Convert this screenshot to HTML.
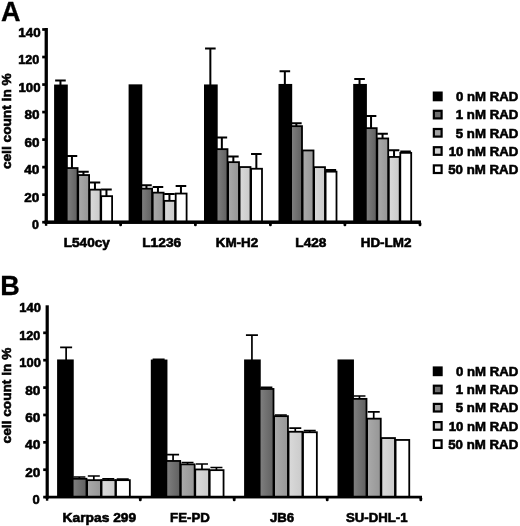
<!DOCTYPE html>
<html><head><meta charset="utf-8"><title>Figure</title>
<style>html,body{margin:0;padding:0;background:#fff}svg{display:block;will-change:transform}text{font-family:"Liberation Sans",sans-serif;font-weight:bold}</style>
</head><body>
<svg width="520" height="526" viewBox="0 0 520 526" fill="#000">
<defs><linearGradient id="g1" x1="0" y1="0" x2="1" y2="0"><stop offset="0" stop-color="#808080"/><stop offset="1" stop-color="#606060"/></linearGradient><linearGradient id="g2" x1="0" y1="0" x2="1" y2="0"><stop offset="0" stop-color="#aaaaaa"/><stop offset="1" stop-color="#969696"/></linearGradient><linearGradient id="g3" x1="0" y1="0" x2="1" y2="0"><stop offset="0" stop-color="#dadada"/><stop offset="1" stop-color="#cacaca"/></linearGradient></defs>
<rect width="520" height="526" fill="#fff"/>
<text x="1.0" y="20.9" font-size="27" stroke="#000" stroke-width="0.3">A</text>
<path d="M60.45 85.30V80.60M55.15 80.60H65.75" stroke="#000" stroke-width="2" fill="none"/>
<rect x="55.00" y="85.45" width="11.90" height="136.75" fill="#000000" stroke="#000" stroke-width="1.8"/>
<path d="M71.95 167.90V156.00M66.65 156.00H77.25" stroke="#000" stroke-width="2" fill="none"/>
<rect x="66.70" y="168.05" width="10.90" height="54.15" fill="url(#g1)" stroke="#000" stroke-width="1.8"/>
<path d="M83.45 174.90V171.80M78.15 171.80H88.75" stroke="#000" stroke-width="2" fill="none"/>
<rect x="78.20" y="175.05" width="10.90" height="47.15" fill="url(#g2)" stroke="#000" stroke-width="1.8"/>
<path d="M94.95 189.50V182.50M89.65 182.50H100.25" stroke="#000" stroke-width="2" fill="none"/>
<rect x="89.70" y="189.65" width="10.90" height="32.55" fill="url(#g3)" stroke="#000" stroke-width="1.8"/>
<path d="M106.45 196.00V189.50M101.15 189.50H111.75" stroke="#000" stroke-width="2" fill="none"/>
<rect x="101.20" y="196.15" width="10.90" height="26.05" fill="#ffffff" stroke="#000" stroke-width="1.8"/>
<rect x="129.50" y="85.25" width="11.90" height="136.95" fill="#000000" stroke="#000" stroke-width="1.8"/>
<path d="M146.45 188.50V185.20M141.15 185.20H151.75" stroke="#000" stroke-width="2" fill="none"/>
<rect x="141.20" y="188.65" width="10.90" height="33.55" fill="url(#g1)" stroke="#000" stroke-width="1.8"/>
<path d="M157.95 192.50V187.00M152.65 187.00H163.25" stroke="#000" stroke-width="2" fill="none"/>
<rect x="152.70" y="192.65" width="10.90" height="29.55" fill="url(#g2)" stroke="#000" stroke-width="1.8"/>
<path d="M169.45 200.70V194.00M164.15 194.00H174.75" stroke="#000" stroke-width="2" fill="none"/>
<rect x="164.20" y="200.85" width="10.90" height="21.35" fill="url(#g3)" stroke="#000" stroke-width="1.8"/>
<path d="M180.95 193.40V186.00M175.65 186.00H186.25" stroke="#000" stroke-width="2" fill="none"/>
<rect x="175.70" y="193.55" width="10.90" height="28.65" fill="#ffffff" stroke="#000" stroke-width="1.8"/>
<path d="M210.35 85.20V48.50M205.05 48.50H215.65" stroke="#000" stroke-width="2" fill="none"/>
<rect x="204.90" y="85.35" width="11.90" height="136.85" fill="#000000" stroke="#000" stroke-width="1.8"/>
<path d="M221.85 149.00V137.60M216.55 137.60H227.15" stroke="#000" stroke-width="2" fill="none"/>
<rect x="216.60" y="149.15" width="10.90" height="73.05" fill="url(#g1)" stroke="#000" stroke-width="1.8"/>
<path d="M233.35 162.00V156.60M228.05 156.60H238.65" stroke="#000" stroke-width="2" fill="none"/>
<rect x="228.10" y="162.15" width="10.90" height="60.05" fill="url(#g2)" stroke="#000" stroke-width="1.8"/>
<rect x="239.60" y="167.05" width="10.90" height="55.15" fill="url(#g3)" stroke="#000" stroke-width="1.8"/>
<path d="M256.35 168.60V153.90M251.05 153.90H261.65" stroke="#000" stroke-width="2" fill="none"/>
<rect x="251.10" y="168.75" width="10.90" height="53.45" fill="#ffffff" stroke="#000" stroke-width="1.8"/>
<path d="M284.85 84.70V71.20M279.55 71.20H290.15" stroke="#000" stroke-width="2" fill="none"/>
<rect x="279.40" y="84.85" width="11.90" height="137.35" fill="#000000" stroke="#000" stroke-width="1.8"/>
<path d="M296.35 126.00V123.30M291.05 123.30H301.65" stroke="#000" stroke-width="2" fill="none"/>
<rect x="291.10" y="126.15" width="10.90" height="96.05" fill="url(#g1)" stroke="#000" stroke-width="1.8"/>
<rect x="302.60" y="150.45" width="10.90" height="71.75" fill="url(#g2)" stroke="#000" stroke-width="1.8"/>
<rect x="314.10" y="167.15" width="10.90" height="55.05" fill="url(#g3)" stroke="#000" stroke-width="1.8"/>
<path d="M330.85 171.50V170.00M325.55 170.00H336.15" stroke="#000" stroke-width="2" fill="none"/>
<rect x="325.60" y="171.65" width="10.90" height="50.55" fill="#ffffff" stroke="#000" stroke-width="1.8"/>
<path d="M359.55 84.70V79.00M354.25 79.00H364.85" stroke="#000" stroke-width="2" fill="none"/>
<rect x="354.10" y="84.85" width="11.90" height="137.35" fill="#000000" stroke="#000" stroke-width="1.8"/>
<path d="M371.05 128.00V116.00M365.75 116.00H376.35" stroke="#000" stroke-width="2" fill="none"/>
<rect x="365.80" y="128.15" width="10.90" height="94.05" fill="url(#g1)" stroke="#000" stroke-width="1.8"/>
<path d="M382.55 138.30V133.80M377.25 133.80H387.85" stroke="#000" stroke-width="2" fill="none"/>
<rect x="377.30" y="138.45" width="10.90" height="83.75" fill="url(#g2)" stroke="#000" stroke-width="1.8"/>
<path d="M394.05 156.80V150.30M388.75 150.30H399.35" stroke="#000" stroke-width="2" fill="none"/>
<rect x="388.80" y="156.95" width="10.90" height="65.25" fill="url(#g3)" stroke="#000" stroke-width="1.8"/>
<path d="M405.55 152.70V151.40M400.25 151.40H410.85" stroke="#000" stroke-width="2" fill="none"/>
<rect x="400.30" y="152.85" width="10.90" height="69.35" fill="#ffffff" stroke="#000" stroke-width="1.8"/>
<rect x="44.6" y="28.00" width="3.3" height="195.80" fill="#000"/>
<rect x="44.6" y="220.45" width="376.40" height="3.5" fill="#000"/>
<rect x="44.90" y="222.20" width="2.4" height="3.6" fill="#000"/>
<rect x="42.20" y="220.85" width="2.8" height="2.7" fill="#000"/>
<text x="32.00" y="229.25" font-size="13.4" stroke="#000" stroke-width="0.6" textLength="6.91" lengthAdjust="spacingAndGlyphs">0</text>
<rect x="42.20" y="193.32" width="2.8" height="2.7" fill="#000"/>
<text x="24.30" y="201.72" font-size="13.4" stroke="#000" stroke-width="0.6" textLength="15.13" lengthAdjust="spacingAndGlyphs">20</text>
<rect x="42.20" y="165.79" width="2.8" height="2.7" fill="#000"/>
<text x="24.20" y="174.19" font-size="13.4" stroke="#000" stroke-width="0.6" textLength="15.23" lengthAdjust="spacingAndGlyphs">40</text>
<rect x="42.20" y="138.26" width="2.8" height="2.7" fill="#000"/>
<text x="24.40" y="146.66" font-size="13.4" stroke="#000" stroke-width="0.6" textLength="15.03" lengthAdjust="spacingAndGlyphs">60</text>
<rect x="42.20" y="110.73" width="2.8" height="2.7" fill="#000"/>
<text x="24.40" y="119.13" font-size="13.4" stroke="#000" stroke-width="0.6" textLength="15.03" lengthAdjust="spacingAndGlyphs">80</text>
<rect x="42.20" y="83.20" width="2.8" height="2.7" fill="#000"/>
<text x="18.50" y="91.60" font-size="13.4" stroke="#000" stroke-width="0.6" textLength="22.08" lengthAdjust="spacingAndGlyphs">100</text>
<rect x="42.20" y="55.67" width="2.8" height="2.7" fill="#000"/>
<text x="18.30" y="64.07" font-size="13.4" stroke="#000" stroke-width="0.6" textLength="21.08" lengthAdjust="spacingAndGlyphs">120</text>
<rect x="42.20" y="28.14" width="2.8" height="2.7" fill="#000"/>
<text x="18.30" y="36.54" font-size="13.4" stroke="#000" stroke-width="0.6" textLength="22.28" lengthAdjust="spacingAndGlyphs">140</text>
<rect x="119.20" y="222.20" width="2.8" height="4.1" rx="1.2" fill="#000"/>
<rect x="194.00" y="222.20" width="2.8" height="4.1" rx="1.2" fill="#000"/>
<rect x="269.00" y="222.20" width="2.8" height="4.1" rx="1.2" fill="#000"/>
<rect x="343.50" y="222.20" width="2.8" height="4.1" rx="1.2" fill="#000"/>
<rect x="418.60" y="222.20" width="2.8" height="4.1" rx="1.2" fill="#000"/>
<text x="63.70" y="247.10" font-size="13.4" stroke="#000" stroke-width="0.6" textLength="46.22" lengthAdjust="spacingAndGlyphs">L540cy</text>
<text x="142.20" y="247.10" font-size="13.4" stroke="#000" stroke-width="0.6" textLength="39.01" lengthAdjust="spacingAndGlyphs">L1236</text>
<text x="215.70" y="247.10" font-size="13.4" stroke="#000" stroke-width="0.6" textLength="42.62" lengthAdjust="spacingAndGlyphs">KM-H2</text>
<text x="295.30" y="247.10" font-size="13.4" stroke="#000" stroke-width="0.6" textLength="31.09" lengthAdjust="spacingAndGlyphs">L428</text>
<text x="360.70" y="247.10" font-size="13.4" stroke="#000" stroke-width="0.6" textLength="50.77" lengthAdjust="spacingAndGlyphs">HD-LM2</text>
<text transform="translate(11.40,169.10) rotate(-90)" font-size="13.4" stroke="#000" stroke-width="0.6" textLength="95.81" lengthAdjust="spacingAndGlyphs">cell count in %</text>
<rect x="433.85" y="92.60" width="7.75" height="7.6" fill="#000000" stroke="#000" stroke-width="2.2"/>
<text x="456.00" y="101.20" font-size="13.4" stroke="#000" stroke-width="0.6" textLength="62.33" lengthAdjust="spacingAndGlyphs">0 nM RAD</text>
<rect x="433.85" y="110.80" width="7.75" height="7.6" fill="#6e6e6e" stroke="#000" stroke-width="2.2"/>
<text x="455.80" y="119.40" font-size="13.4" stroke="#000" stroke-width="0.6" textLength="62.53" lengthAdjust="spacingAndGlyphs">1 nM RAD</text>
<rect x="433.85" y="129.00" width="7.75" height="7.6" fill="#a2a2a2" stroke="#000" stroke-width="2.2"/>
<text x="455.80" y="137.60" font-size="13.4" stroke="#000" stroke-width="0.6" textLength="62.53" lengthAdjust="spacingAndGlyphs">5 nM RAD</text>
<rect x="433.85" y="147.20" width="7.75" height="7.6" fill="#d2d2d2" stroke="#000" stroke-width="2.2"/>
<text x="448.70" y="155.80" font-size="13.4" stroke="#000" stroke-width="0.6" textLength="69.58" lengthAdjust="spacingAndGlyphs">10 nM RAD</text>
<rect x="433.85" y="165.40" width="7.75" height="7.6" fill="#ffffff" stroke="#000" stroke-width="2.2"/>
<text x="448.20" y="174.00" font-size="13.4" stroke="#000" stroke-width="0.6" textLength="70.08" lengthAdjust="spacingAndGlyphs">50 nM RAD</text>
<text x="0.3" y="295.4" font-size="27" stroke="#000" stroke-width="0.3">B</text>
<path d="M66.12 360.20V347.30M60.12 347.30H72.12" stroke="#000" stroke-width="1.7" fill="none"/>
<rect x="58.00" y="360.35" width="14.85" height="136.75" fill="#000000" stroke="#000" stroke-width="1.8"/>
<path d="M79.38 478.60V477.00M73.38 477.00H85.38" stroke="#000" stroke-width="1.7" fill="none"/>
<rect x="72.65" y="478.75" width="13.85" height="18.35" fill="url(#g1)" stroke="#000" stroke-width="1.8"/>
<path d="M93.82 480.00V476.00M87.82 476.00H99.82" stroke="#000" stroke-width="1.7" fill="none"/>
<rect x="87.10" y="480.15" width="13.85" height="16.95" fill="url(#g2)" stroke="#000" stroke-width="1.8"/>
<path d="M108.27 480.00V478.80M102.27 478.80H114.27" stroke="#000" stroke-width="1.7" fill="none"/>
<rect x="101.55" y="480.15" width="13.85" height="16.95" fill="url(#g3)" stroke="#000" stroke-width="1.8"/>
<path d="M122.72 480.00V479.20M116.72 479.20H128.72" stroke="#000" stroke-width="1.7" fill="none"/>
<rect x="116.00" y="480.15" width="13.85" height="16.95" fill="#ffffff" stroke="#000" stroke-width="1.8"/>
<path d="M158.62 360.30V359.30M152.62 359.30H164.62" stroke="#000" stroke-width="1.7" fill="none"/>
<rect x="151.70" y="360.45" width="14.85" height="136.65" fill="#000000" stroke="#000" stroke-width="1.8"/>
<path d="M173.07 460.80V454.70M167.07 454.70H179.07" stroke="#000" stroke-width="1.7" fill="none"/>
<rect x="166.35" y="460.95" width="13.85" height="36.15" fill="url(#g1)" stroke="#000" stroke-width="1.8"/>
<path d="M187.53 464.20V462.50M181.53 462.50H193.53" stroke="#000" stroke-width="1.7" fill="none"/>
<rect x="180.80" y="464.35" width="13.85" height="32.75" fill="url(#g2)" stroke="#000" stroke-width="1.8"/>
<path d="M201.97 469.30V464.00M195.97 464.00H207.97" stroke="#000" stroke-width="1.7" fill="none"/>
<rect x="195.25" y="469.45" width="13.85" height="27.65" fill="url(#g3)" stroke="#000" stroke-width="1.8"/>
<path d="M216.43 470.00V467.50M210.43 467.50H222.43" stroke="#000" stroke-width="1.7" fill="none"/>
<rect x="209.70" y="470.15" width="13.85" height="26.95" fill="#ffffff" stroke="#000" stroke-width="1.8"/>
<path d="M251.93 360.20V335.10M245.93 335.10H257.93" stroke="#000" stroke-width="1.7" fill="none"/>
<rect x="245.00" y="360.35" width="14.85" height="136.75" fill="#000000" stroke="#000" stroke-width="1.8"/>
<path d="M266.38 388.80V387.40M260.38 387.40H272.38" stroke="#000" stroke-width="1.7" fill="none"/>
<rect x="259.65" y="388.95" width="13.85" height="108.15" fill="url(#g1)" stroke="#000" stroke-width="1.8"/>
<path d="M280.82 416.00V415.00M274.82 415.00H286.82" stroke="#000" stroke-width="1.7" fill="none"/>
<rect x="274.10" y="416.15" width="13.85" height="80.95" fill="url(#g2)" stroke="#000" stroke-width="1.8"/>
<path d="M295.27 431.60V428.20M289.27 428.20H301.27" stroke="#000" stroke-width="1.7" fill="none"/>
<rect x="288.55" y="431.75" width="13.85" height="65.35" fill="url(#g3)" stroke="#000" stroke-width="1.8"/>
<path d="M309.73 432.10V430.60M303.73 430.60H315.73" stroke="#000" stroke-width="1.7" fill="none"/>
<rect x="303.00" y="432.25" width="13.85" height="64.85" fill="#ffffff" stroke="#000" stroke-width="1.8"/>
<rect x="338.40" y="360.35" width="14.65" height="136.75" fill="#000000" stroke="#000" stroke-width="1.8"/>
<path d="M359.47 398.70V396.00M353.47 396.00H365.47" stroke="#000" stroke-width="1.7" fill="none"/>
<rect x="352.85" y="398.85" width="13.65" height="98.25" fill="url(#g1)" stroke="#000" stroke-width="1.8"/>
<path d="M373.72 418.50V411.80M367.72 411.80H379.72" stroke="#000" stroke-width="1.7" fill="none"/>
<rect x="367.10" y="418.65" width="13.65" height="78.45" fill="url(#g2)" stroke="#000" stroke-width="1.8"/>
<rect x="381.35" y="438.05" width="13.65" height="59.05" fill="url(#g3)" stroke="#000" stroke-width="1.8"/>
<rect x="395.60" y="439.95" width="13.65" height="57.15" fill="#ffffff" stroke="#000" stroke-width="1.8"/>
<rect x="45.6" y="305.30" width="3.2" height="193.40" fill="#000"/>
<rect x="45.6" y="495.75" width="376.40" height="2.7" fill="#000"/>
<rect x="45.90" y="497.10" width="2.4" height="3.6" fill="#000"/>
<rect x="43.20" y="495.75" width="2.8" height="2.7" fill="#000"/>
<text x="32.60" y="504.15" font-size="13.4" stroke="#000" stroke-width="0.6" textLength="7.22" lengthAdjust="spacingAndGlyphs">0</text>
<rect x="43.20" y="468.37" width="2.8" height="2.7" fill="#000"/>
<text x="25.30" y="476.77" font-size="13.4" stroke="#000" stroke-width="0.6" textLength="15.13" lengthAdjust="spacingAndGlyphs">20</text>
<rect x="43.20" y="440.99" width="2.8" height="2.7" fill="#000"/>
<text x="25.10" y="449.39" font-size="13.4" stroke="#000" stroke-width="0.6" textLength="15.33" lengthAdjust="spacingAndGlyphs">40</text>
<rect x="43.20" y="413.61" width="2.8" height="2.7" fill="#000"/>
<text x="25.30" y="422.01" font-size="13.4" stroke="#000" stroke-width="0.6" textLength="15.13" lengthAdjust="spacingAndGlyphs">60</text>
<rect x="43.20" y="386.23" width="2.8" height="2.7" fill="#000"/>
<text x="25.30" y="394.63" font-size="13.4" stroke="#000" stroke-width="0.6" textLength="15.13" lengthAdjust="spacingAndGlyphs">80</text>
<rect x="43.20" y="358.85" width="2.8" height="2.7" fill="#000"/>
<text x="19.30" y="367.25" font-size="13.4" stroke="#000" stroke-width="0.6" textLength="21.58" lengthAdjust="spacingAndGlyphs">100</text>
<rect x="43.20" y="331.47" width="2.8" height="2.7" fill="#000"/>
<text x="19.30" y="339.87" font-size="13.4" stroke="#000" stroke-width="0.6" textLength="21.08" lengthAdjust="spacingAndGlyphs">120</text>
<text x="19.30" y="312.49" font-size="13.4" stroke="#000" stroke-width="0.6" textLength="21.58" lengthAdjust="spacingAndGlyphs">140</text>
<rect x="138.90" y="497.10" width="2.8" height="4.1" rx="1.2" fill="#000"/>
<rect x="232.80" y="497.10" width="2.8" height="4.1" rx="1.2" fill="#000"/>
<rect x="325.80" y="497.10" width="2.8" height="4.1" rx="1.2" fill="#000"/>
<rect x="419.40" y="497.10" width="2.8" height="4.1" rx="1.2" fill="#000"/>
<text x="62.50" y="522.20" font-size="13.4" stroke="#000" stroke-width="0.6" textLength="73.73" lengthAdjust="spacingAndGlyphs">Karpas 299</text>
<text x="170.10" y="522.20" font-size="13.4" stroke="#000" stroke-width="0.6" textLength="39.80" lengthAdjust="spacingAndGlyphs">FE-PD</text>
<text x="270.00" y="522.20" font-size="13.4" stroke="#000" stroke-width="0.6" textLength="24.19" lengthAdjust="spacingAndGlyphs">JB6</text>
<text x="345.90" y="522.20" font-size="13.4" stroke="#000" stroke-width="0.6" textLength="61.62" lengthAdjust="spacingAndGlyphs">SU-DHL-1</text>
<text transform="translate(11.40,443.40) rotate(-90)" font-size="13.4" stroke="#000" stroke-width="0.6" textLength="95.71" lengthAdjust="spacingAndGlyphs">cell count in %</text>
<rect x="433.85" y="367.50" width="7.75" height="7.6" fill="#000000" stroke="#000" stroke-width="2.2"/>
<text x="456.00" y="375.90" font-size="13.4" stroke="#000" stroke-width="0.6" textLength="62.33" lengthAdjust="spacingAndGlyphs">0 nM RAD</text>
<rect x="433.85" y="385.70" width="7.75" height="7.6" fill="#6e6e6e" stroke="#000" stroke-width="2.2"/>
<text x="455.80" y="394.10" font-size="13.4" stroke="#000" stroke-width="0.6" textLength="62.53" lengthAdjust="spacingAndGlyphs">1 nM RAD</text>
<rect x="433.85" y="403.90" width="7.75" height="7.6" fill="#a2a2a2" stroke="#000" stroke-width="2.2"/>
<text x="455.80" y="412.30" font-size="13.4" stroke="#000" stroke-width="0.6" textLength="62.53" lengthAdjust="spacingAndGlyphs">5 nM RAD</text>
<rect x="433.85" y="422.10" width="7.75" height="7.6" fill="#d2d2d2" stroke="#000" stroke-width="2.2"/>
<text x="448.70" y="430.50" font-size="13.4" stroke="#000" stroke-width="0.6" textLength="69.58" lengthAdjust="spacingAndGlyphs">10 nM RAD</text>
<rect x="433.85" y="440.30" width="7.75" height="7.6" fill="#ffffff" stroke="#000" stroke-width="2.2"/>
<text x="448.20" y="448.70" font-size="13.4" stroke="#000" stroke-width="0.6" textLength="70.08" lengthAdjust="spacingAndGlyphs">50 nM RAD</text>
</svg>
</body></html>
